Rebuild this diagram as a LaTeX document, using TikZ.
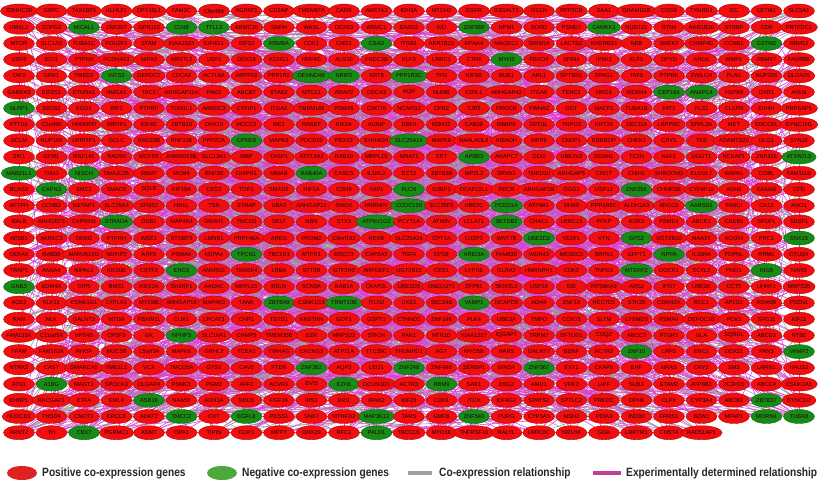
\documentclass[tikz,border=0pt]{standalone}
\usepackage{fontspec}
\setmainfont{Liberation Sans}
\newfontfamily\legfont[FakeStretch=0.85]{Liberation Sans}
\usetikzlibrary{shapes.geometric}
\definecolor{nred}{RGB}{240,14,14}
\definecolor{nredd}{RGB}{180,0,0}
\definecolor{ngreen}{RGB}{22,140,22}
\definecolor{ngreend}{RGB}{10,95,10}
\definecolor{ntext}{RGB}{40,0,0}
\definecolor{emag}{RGB}{226,58,216}
\definecolor{egray}{RGB}{158,158,158}
\definecolor{legred}{RGB}{222,34,34}
\definecolor{leggreen}{RGB}{78,168,60}
\definecolor{legmag}{RGB}{196,62,150}
\pgfdeclarelayer{bg}
\pgfsetlayers{bg,main}
\tikzset{
  gbase/.style={ellipse, line width=0.35pt, minimum width=31pt, minimum height=14pt,
    inner sep=0pt, font=\fontsize{5.7}{6}\selectfont, text=ntext},
  gr/.style={gbase, draw=nredd, fill=nred},
  gg/.style={gbase, draw=ngreend, fill=ngreen},
  emedge/.style={draw=emag, line width=0.55pt},
  gyedge/.style={draw=egray, line width=0.55pt},
  legtext/.style={anchor=west, inner sep=0pt, text=black!85,
    font=\legfont\bfseries\fontsize{12}{14}\selectfont},
  legpos/.style={ellipse, fill=legred, minimum width=30pt, minimum height=14pt, inner sep=0pt},
  legneg/.style={ellipse, fill=leggreen, minimum width=30pt, minimum height=14pt, inner sep=0pt},
  legline/.style={line width=3.6pt},
}
\newcommand\generow[2]{%
  \foreach \lab/\col [count=\c from 0] in {#2}{%
    \node[g\col] (n-#1-\c) at ({19+32.5*\c},{11+16.22*#1}) {\lab};
  }%
}
\begin{document}
\begin{tikzpicture}[x=1pt,y=-1pt]
\useasboundingbox (0,0) rectangle (825,484);
\generow{0}{ZDHHC20/r,G6PC/r,TAX1BP1/r,KLHL21/r,DPY19L1/r,FAM3C/r,C9orf64/r,AGPAT3/r,CD2AP/r,TMEM87A/r,CANX/r,AKR7A2/r,IDH3A/r,MTCH2/r,EGFR/r,B3GALT5/r,OCLN/r,PPP2CB/r,SKA1/r,GRAMD1B/r,COG6/r,TXNRD1/r,GC/r,LETM1/r,SLC5A1/r}
\generow{1}{DMXL1/r,COPG2/r,MICAL1/g,ZNF207/r,GPR110/r,CLN8/g,TTLL3/g,ARMC10/r,SNPH/r,WASL/r,DDX53/r,ARMC1/r,EARS2/r,IVD/r,ZNF589/g,NPM1/r,SORD/r,PSMD7/r,CAMKK1/g,NUDT21/r,RTN4/r,AKR1B10/r,STRBP/r,CD9/r,PRTFDC1/r}
\generow{2}{MTOR/r,SLC1A5/r,TUBA1C/r,POU2F1/r,STAM/r,KIAA1524/r,EIF4G1/r,EIF3J/r,RBM8A/g,CDK1/r,CHD1/r,CSAD/g,ITGB1/r,AKR1B15/r,KPNA4/r,MAGEC1/r,SMIM14/r,LACTB2/r,KHDRBS1/r,NEB/r,SMEK2/r,CHMP4C/r,CCNB1/r,GSTM2/g,RBM12/r}
\generow{3}{USP8/r,IDO1/r,PTPN9/r,PCDHA13/r,NIPA2/r,ARNTL2/r,USP1/r,DDX18/r,KCNG1/r,HNF4G/r,ALG10/r,FNDC3B/r,KLF3/r,LRRC1/r,CTR9/r,MYH3/g,FBXO4/r,SPIN4/r,IP6K3/r,KLF5/r,DPYD/r,ANO6/r,MMP1/r,RBM47/r,FAM98B/r}
\generow{4}{TAF2/r,GRK1/r,TMED2/r,INTS3/g,DEPDC1/r,CDCA2/r,ACTL6A/r,ARPP19/r,PPP1R2/r,DENND4B/g,NRIP2/g,KRT8/r,PPP1R3C/g,TFG/r,KIF5B/r,BUB1/r,ARL1/r,SPTBN1/r,SPAG1/r,TAF5/r,PTPRK/r,ZWILCH/r,PLAU/r,NUP205/r,DLGAP5/r}
\generow{5}{GABRA3/r,EIF2S1/r,CTNNA1/r,HMGA1/r,TAC1/r,ARHGAP11A/r,PAK2/r,ABCB7/r,STAB2/r,MTCL1/r,ARAP2/r,CDCA3/r,AQR/r,NUMB/r,F2RL1/r,ARHGAP42/r,ITGA6/r,TENC1/r,NRG1/r,WDR44/r,CEP164/g,ANAPC4/g,HSPA9/r,OXR1/r,ANLN/r}
\generow{6}{NLRP1/g,SEC62/r,FGD4/r,RIF1/r,PTPRF/r,TOM1L1/r,ARRDC3/r,CYFIP1/r,ITGA2/r,TMEM165/r,PSMA5/r,CNOT6/r,NCAPG2/r,CPB2/r,TJP2/r,PROCR/r,YWHAZ/r,OGT/r,MACF1/r,TUBA1B/r,FAT1/r,PLS1/r,CLSPN/r,EIF4H/r,PRPSAP1/r}
\generow{7}{PTTG1/r,C1orf50/r,HNRNPD/r,ARFIP1/r,EIF4E/r,ZBTB10/r,DHX15/r,MCCC2/r,ME1/r,RASEF/r,KIF2A/r,AUNIP/r,DBF4/r,RDH12/r,CAB39/r,RBBP6/r,GPD1L/r,TNPO3/r,KRT20/r,SEC11A/r,LRPPRC/r,SPPL2A/r,MET/r,ERCC6L/r,DYNC1H1/r}
\generow{8}{GCLM/r,NUP160/r,LRRFIP1/r,GCLC/r,RAD23B/r,RNF126/r,PPP2CA/r,CPNE8/g,MAPK3/r,PDCD10/r,PEX13/r,EHHADH/r,SLC25A14/g,MAPK8/r,NAALADL2/r,HIBADH/r,MPP6/r,CNDP1/r,ERBB2IP/r,CHEK1/r,CRY1/r,TES/r,ADAMTS20/r,DLG1/r,SYNJ2/r}
\generow{9}{SIK1/r,GFM1/r,RNF141/r,RAD50/r,MCFD2/r,ANKRD13B/r,SLC13A1/r,MBP/r,TASP1/r,ATP13A3/r,RAB10/r,MRPL19/r,MNAT1/r,SET/r,APBB3/g,ANAPC7/r,GDI2/r,UBE2V2/r,DDAH1/r,TC2N/r,NAF1/r,UGGT1/r,NCKAP1/r,ZNF326/r,ATXN7L3/g}
\generow{10}{MAB21L1/g,TMX1/r,NISCH/g,DNAJC25/r,RBM7/r,MCM4/r,RNF38/r,DIAPH1/r,MMAB/r,RAB40A/g,CASC5/r,IL1RL2/r,ECT2/r,ZBTB38/r,MPZL2/r,SRXN1/r,TMED10/r,ARHGAP5/r,CROT/r,CNIH1/r,SHROOM3/r,ELOVL7/r,WAPAL/r,COBL/r,FAM111B/r}
\generow{11}{BCAS3/r,CAPN3/g,SMC2/r,SMAD3/r,SQLE/r,KIF18A/r,CES3/r,TOP1/r,SMAD2/r,HIF1A/r,CDH6/r,YAP1/r,FLCN/g,G3BP1/r,DCAF12L1/r,PECR/r,ARHGAP28/r,OGG1/r,USP12/r,ZNF256/g,CHMP2B/r,CYP4F12/r,ADH6/r,GANAB/r,CPD/r}
\generow{12}{AFTPH/r,CCNB2/r,METAP1/r,SLC25A3/r,SPNS2/r,HN1L/r,TSN/r,STRAP/r,UBA2/r,ARHGAP21/r,SMOX/r,HNRNPF/r,CCDC150/g,SLC35F5/r,UBE2C/r,PCED1A/g,ATP8A1/r,DHX9/r,PPP2R5C/r,ALDH1A3/r,XRCC5/r,AARSD1/g,FANCI/r,CA12/r,ANO1/r}
\generow{13}{RALB/r,ARHGEF3/r,CAPRIN1/r,STRADA/g,DDB1/r,MAP4K4/r,DNAH1/r,TMCO3/r,SELT/r,NBN/r,STX3/r,ATP6V1G2/g,PCYT1A/r,ATMIN/r,LCLAT1/r,SETDB2/g,CHAC1/r,LRRC15/r,PFKP/r,AGR3/r,PSME4/r,ABCE1/r,CREB5/r,SPOPL/r,SRSF1/r}
\generow{14}{AP3B1/r,AKR1C3/r,ORM2/r,PTPRH/r,WEE1/r,STXBP3/r,LMNB1/r,PRPF40A/r,AREG/r,PROM2/r,C9orf152/r,HEXB/r,SLC25A24/r,CPT1A/r,LUZP1/r,WNT7B/r,UBE2D2/g,VEZF1/r,VTN/r,GPS2/g,UGT2B10/r,NAA15/r,ACKR4/r,PRC1/r,SNX15/g}
\generow{15}{DEFA6/r,RAB38/r,MARVELD2/r,NDFIP2/r,ARF5/r,PSMA6/r,HSPA4/r,TPCN1/g,TBC1D1/r,MTFR1/r,ERCC3/r,CAPZA2/r,TGFA/r,EPS8/r,ARID3A/g,FAM83B/r,WDR43/r,MESDC2/r,SRPK1/r,GFPT1/r,NPPA/g,IL15RA/r,FOPNL/r,RRM1/r,OTUD4/r}
\generow{16}{TRAP1/r,ANXA4/r,NIPAL1/r,KIF20B/r,CSTF2/r,ENO3/g,ANKRD1/r,TM4SF4/r,LRBA/r,STT3B/r,GTF2H2/r,ARFGEF1/r,UGT2B15/r,CES1/r,LYPD6/r,GLRA2/r,HNRNPH1/r,CDK2/r,TNPO1/r,MTERF2/g,DOCK1/r,SCYL2/r,PNO1/r,ING5/g,NARS/r}
\generow{17}{GNB3/g,KDM4A/r,OIP5/r,BMS1/r,KIF21A/r,SH3RF1/r,AADAC/r,MRPL15/r,RELN/r,SCN3A/r,RAB1A/r,CKAP2L/r,UBE2D3/r,ONECUT2/r,ZFP91/r,SKIV2L2/r,USP16/r,IDE/r,RPS6KA3/r,ARSJ/r,IPO7/r,UBE2K/r,CCT5/r,UHRF1/r,MRPS35/r}
\generow{18}{ACE2/r,KLK11/r,CSNK1G1/r,LYPLA1/r,MYO9B/r,ARHGAP18/r,MAP4K3/r,TANK/r,ZBTB49/g,CSNK1G3/r,TRMT10B/g,ITLN2/r,UXS1/r,SEC24B/r,VAMP1/g,NCAPD3/r,ADH4/r,ZNF18/r,HECTD1/r,STK38/r,CDKN2A/r,RCC1/r,AP1G1/r,ADAM9/r,PSEN1/r}
\generow{19}{RAN/r,NLK/r,GALNT3/r,MTDH/r,FBXW11/r,CUX1/r,LPCAT3/r,CHP1/r,TSTD1/r,KNSTRN/r,GOT1/r,GSPT1/r,CTNND1/r,ZNF146/r,PLK4/r,UBE3A/r,TMPO/r,COX15/r,SLTM/r,LYSMD3/r,PSMA4/r,DEPDC1B/r,PCK1/r,SPG11/r,KIF11/r}
\generow{20}{FAM133A/r,C11orf54/r,VPS4B/r,CPSF3/r,GK/r,NPHP3/g,SLC16A1/r,CHMP5/r,TMEM30B/r,EZR/r,MRPS22/r,STK24/r,PAK1/r,HTR1D/r,KIAA1217/r,IQGAP1/r,TRPM7/r,EFTUD1/r,COQ2/r,ABCC3/r,PTGR1/r,GLA/r,SQRDL/r,ABCD3/r,NT5E/r}
\generow{21}{TFAM/r,FAM162A/r,RHOF/r,MUC5B/r,C5orf34/r,MAPK6/r,GRHL2/r,TCEA1/r,YWHAG/r,CACNG2/r,ATP11A/r,TTC39C/r,THUMPD1/r,AGT/r,MYO5B/r,HARS/r,GALNT7/r,BDNF/r,ACTR2/r,ZNF10/g,LRP2/r,ENC1/r,DDX21/r,PAN3/r,VAMP2/g}
\generow{22}{NTRK2/r,CAST/r,SMARCA5/r,YME1L1/r,VCX/r,TMCO5A/r,GYS2/r,CAV2/r,PTER/r,ZNF362/g,AQP3/r,LEO1/r,ZNF248/g,ZNF498/r,SERBP1/r,GINS4/r,ZNF367/g,EXT1/r,CKAP5/r,EHF/r,NRAS/r,CRYZ/r,SMS/r,LRRN1/r,HAUS2/r}
\generow{23}{ATN1/r,A1BG/g,MAGT1/r,SPOCK3/r,DLGAP4/r,PSMC1/r,PGM2/r,AFF2/r,ACVR1/r,EVI5/r,EZH1/g,DCUN1D1/r,ACTR3/r,RBM9/g,SAE1/r,DSG2/r,AMD1/r,VRK2/r,LIPF/r,SUB1/r,STAM2/r,ATP8B1/r,ZC3H15/r,ABCC4/r,CSNK1A1/r}
\generow{24}{EHBP1/r,RACGAP1/r,ETFA/r,EML4/r,ASB16/g,NAA50/r,ADH1A/r,NINJ1/r,FGF19/r,IRS1/r,ERI1/r,IRAK2/r,KIF23/r,CDH1/r,ITCH/r,EIF4G2/r,SPATS2/r,SPTLC2/r,PRKDC/r,DPH6/r,CLPX/r,CYP3A4/r,ABCB1/r,ZBTB37/g,DYNC1I2/r}
\generow{25}{NUDCD1/r,THSD4/r,CNOT1/r,ERCC6/r,ADAT2/r,TMCC2/g,OXT/r,EGFL8/g,PDSS1/r,SNX7/r,MTHFD2/r,MAP3K12/g,TARS/r,GMFB/r,ZNF540/g,PURG/r,CYP3A5/r,MSH2/r,PDIA3/r,INO80/r,FRRS1/r,BZW1/r,MFAP1/r,MORN4/g,TUBA8/g}
\generow{26}{ARNT2/r,TH/r,CBX7/g,PGRMC1/r,ASMT/r,OPA1/r,TIPIN/r,CLIP1/r,MPP7/r,DHX29/r,RFC1/r,PALD1/g,TBCCD1/r,MYO1E/r,TNFRSF10/r,RALYL/r,LRRC8C/r,NR1H4/r,GDA/r,LRRTM1/r,CHST4/r,RAD51AP1/r}
% connectors (behind the nodes)
\begin{pgfonlayer}{bg}
\pgfmathsetseed{2024}
\foreach \i in {1,...,3000}{%
  \pgfmathrandominteger{\ra}{0}{26}%
  \pgfmathrandominteger{\ca}{0}{24}%
  \pgfmathrandominteger{\rb}{0}{26}%
  \pgfmathrandominteger{\cb}{0}{24}%
  \pgfmathrandominteger{\kk}{0}{9}%
  \ifnum\ra=26 \pgfmathtruncatemacro\ca{mod(\ca,22)}\fi
  \ifnum\rb=26 \pgfmathtruncatemacro\cb{mod(\cb,22)}\fi
  \ifnum\kk<6
    \draw[emedge] (n-\ra-\ca.center) -- (n-\rb-\cb.center);
  \else
    \draw[gyedge] (n-\ra-\ca.center) -- (n-\rb-\cb.center);
  \fi
}
\end{pgfonlayer}
% legend
\node[legpos] (lgpos) at (22,473) {};
\node[legtext] (lgpost) at (42,473) {Positive co-expression genes};
\node[legneg] (lgneg) at (222,473) {};
\node[legtext] (lgnegt) at (242,473) {Negative co-expression genes};
\coordinate (lgc1) at (408,473);
\coordinate (lgc2) at (432,473);
\draw[egray, legline] (lgc1) -- (lgc2);
\node[legtext] (lgct) at (439,473) {Co-expression relationship};
\coordinate (lgm1) at (593,473);
\coordinate (lgm2) at (621,473);
\draw[legmag, legline] (lgm1) -- (lgm2);
\node[legtext] (lgmt) at (626,473) {Experimentally determined relationship};
\end{tikzpicture}
\end{document}
